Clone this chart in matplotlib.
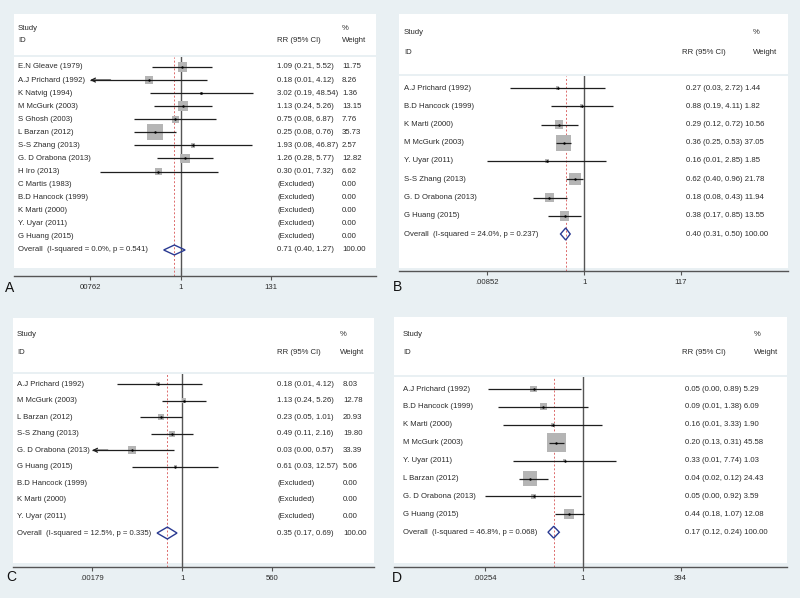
import numpy as np
import matplotlib
matplotlib.use("Agg")
import matplotlib.pyplot as plt
from matplotlib.patches import Rectangle, Polygon
from matplotlib.transforms import blended_transform_factory
from matplotlib.ticker import NullLocator

plt.rcParams['font.family'] = ['Liberation Sans', 'DejaVu Sans']

# ---------------- Panel A data ----------------
a_study = ["E.N Gleave (1979)", "A.J Prichard (1992)", "K Natvig (1994)", "M McGurk (2003)",
           "S Ghosh (2003)", "L Barzan (2012)", "S-S Zhang (2013)", "G. D Orabona (2013)", "H Iro (2013)"]
a_rr = [1.09, 0.18, 3.02, 1.13, 0.75, 0.25, 1.93, 1.26, 0.30]
a_lo = [0.21, 0.006, 0.19, 0.24, 0.08, 0.08, 0.08, 0.28, 0.013]
a_hi = [5.52, 4.12, 48.54, 5.26, 6.87, 0.76, 46.87, 5.77, 7.32]
a_wt = [11.75, 8.26, 1.36, 13.15, 7.76, 35.73, 2.57, 12.82, 6.62]
a_excluded = ["C Martis (1983)", "B.D Hancock (1999)", "K Marti (2000)", "Y. Uyar (2011)", "G Huang (2015)"]
a_overall = [0.71, 0.40, 1.27]
a_overall_label = "Overall  (I-squared = 0.0%, p = 0.541)"
a_ticks = [0.00762, 1, 131]
a_ticklabels = ["00762", "1", "131"]

# ---------------- Panel B data ----------------
b_study = ["A.J Prichard (1992)", "B.D Hancock (1999)", "K Marti (2000)", "M McGurk (2003)",
           "Y. Uyar (2011)", "S-S Zhang (2013)", "G. D Orabona (2013)", "G Huang (2015)"]
b_rr = [0.27, 0.88, 0.29, 0.36, 0.16, 0.62, 0.18, 0.38]
b_lo = [0.026, 0.19, 0.12, 0.25, 0.00852, 0.40, 0.08, 0.17]
b_hi = [2.72, 4.11, 0.72, 0.53, 2.85, 0.96, 0.43, 0.85]
b_wt = [1.44, 1.82, 10.56, 37.05, 1.85, 21.78, 11.94, 13.55]
b_excluded = []
b_overall = [0.40, 0.31, 0.50]
b_overall_label = "Overall  (I-squared = 24.0%, p = 0.237)"
b_ticks = [0.00852, 1, 117]
b_ticklabels = [".00852", "1", "117"]

# ---------------- Panel C data ----------------
c_study = ["A.J Prichard (1992)", "M McGurk (2003)", "L Barzan (2012)", "S-S Zhang (2013)",
           "G. D Orabona (2013)", "G Huang (2015)"]
c_rr = [0.18, 1.13, 0.23, 0.49, 0.03, 0.61]
c_lo = [0.01, 0.24, 0.05, 0.11, 0.0015, 0.03]
c_hi = [4.12, 5.26, 1.01, 2.16, 0.57, 12.57]
c_wt = [8.03, 12.78, 20.93, 19.80, 33.39, 5.06]
c_excluded = ["B.D Hancock (1999)", "K Marti (2000)", "Y. Uyar (2011)"]
c_overall = [0.35, 0.17, 0.69]
c_overall_label = "Overall  (I-squared = 12.5%, p = 0.335)"
c_ticks = [0.00179, 1, 560]
c_ticklabels = [".00179", "1", "560"]

# ---------------- Panel D data ----------------
d_study = ["A.J Prichard (1992)", "B.D Hancock (1999)", "K Marti (2000)", "M McGurk (2003)",
           "Y. Uyar (2011)", "L Barzan (2012)", "G. D Orabona (2013)", "G Huang (2015)"]
d_rr = [0.05, 0.09, 0.16, 0.20, 0.33, 0.04, 0.05, 0.44]
d_lo = [0.0031, 0.0055, 0.0078, 0.13, 0.014, 0.02, 0.00254, 0.18]
d_hi = [0.89, 1.38, 3.33, 0.31, 7.74, 0.12, 0.92, 1.07]
d_wt = [5.29, 6.09, 1.90, 45.58, 1.03, 24.43, 3.59, 12.08]
d_excluded = []
d_overall = [0.17, 0.12, 0.24]
d_overall_label = "Overall  (I-squared = 46.8%, p = 0.068)"
d_ticks = [0.00254, 1, 394]
d_ticklabels = [".00254", "1", "394"]

# ---------------- figure ----------------
W, H = 800, 598
BG = '#e9f0f3'
TXT = '#2b2b2b'
FS = 5.6
fig = plt.figure(figsize=(W / 100, H / 100), dpi=100, facecolor=BG)


def fx(px):
    return px / W


def fy(py):
    return 1 - py / H


def panel(lay, study, rr, lo, hi, wt, excluded, ov, ov_label, ticks, ticklabels, letter):
    L, R = lay['x']
    for (t, b) in (lay['head'], lay['body']):
        fig.patches.append(Rectangle((fx(L), fy(b)), (R - L) / W, (b - t) / H,
                                     transform=fig.transFigure, facecolor='white',
                                     edgecolor='none', zorder=-5))
    top = lay['body'][0]
    ax = fig.add_axes([fx(L), fy(lay['axis']), (R - L) / W, (lay['axis'] - top) / H])
    ax.set_zorder(1)
    ax.set_facecolor('none')
    ax.set_xscale('log')
    N, p = lay['null'], lay['ppd']
    ax.set_xlim(10 ** (-(N - L) / p), 10 ** ((R - N) / p))
    r0, dr = lay['r0'], lay['dr']
    ax.set_ylim((lay['axis'] - r0) / dr, (top - r0) / dr)

    for s in ('left', 'right', 'top'):
        ax.spines[s].set_visible(False)
    ax.spines['bottom'].set_color('#555555')
    ax.spines['bottom'].set_linewidth(1.0)
    ax.set_yticks([])
    ax.set_xticks(ticks)
    ax.set_xticklabels(ticklabels)
    ax.xaxis.set_minor_locator(NullLocator())
    ax.tick_params(axis='x', direction='out', length=3, width=0.8, color='#555555',
                   labelsize=FS, labelcolor=TXT, pad=3)

    # reference lines
    ax.axvline(1, color='#555555', lw=1.0, zorder=1)
    ax.axvline(ov[0], color='#dd6b6b', lw=0.7, ls=(0, (2, 2)), zorder=1)

    n = len(study)
    rows = np.arange(n)
    xmin_clip = ticks[0]
    sizes = [(lay['k'] * np.sqrt(w) * 0.72) ** 2 for w in wt]
    ax.scatter(rr, rows, marker='s', s=sizes, color='#b5b5b5', linewidths=0, zorder=2)
    for i in range(n):
        x0 = max(lo[i], xmin_clip)
        ax.plot([x0, hi[i]], [i, i], color='#1e1e1e', lw=0.9, zorder=3,
                solid_capstyle='butt')
        if lo[i] < xmin_clip:
            ax.annotate('', xy=(xmin_clip, i), xytext=(xmin_clip * 3, i),
                        arrowprops=dict(arrowstyle='->', color='#1e1e1e', lw=0.9,
                                        mutation_scale=7, shrinkA=0, shrinkB=0), zorder=3)
    ax.scatter(rr, rows, s=3, color='black', linewidths=0, zorder=4)

    # overall diamond
    yo = n + len(excluded)
    h = lay['dh']
    ax.add_patch(Polygon([(ov[1], yo), (ov[0], yo - h), (ov[2], yo), (ov[0], yo + h)],
                         closed=True, fill=False, edgecolor='#2a3a92', lw=1.0, zorder=4))

    trans = blended_transform_factory(fig.transFigure, ax.transData)
    kw = dict(transform=trans, fontsize=FS, va='center', ha='left', color=TXT, clip_on=False)
    for i in range(n):
        ax.text(fx(lay['name_x']), i, study[i], **kw)
        rtxt = f"{rr[i]:.2f} ({lo[i]:.2f}, {hi[i]:.2f})"
        if lay['wt_x'] is None:
            ax.text(fx(lay['rr_x']), i, rtxt + f" {wt[i]:.2f}", **kw)
        else:
            ax.text(fx(lay['rr_x']), i, rtxt, **kw)
            ax.text(fx(lay['wt_x']), i, f"{wt[i]:.2f}", **kw)
    for j, name in enumerate(excluded):
        y = n + j
        ax.text(fx(lay['name_x']), y, name, **kw)
        ax.text(fx(lay['rr_x']), y, "(Excluded)", **kw)
        ax.text(fx(lay['wt_x']), y, "0.00", **kw)
    ax.text(fx(lay['name_x']), yo, ov_label, **kw)
    otxt = f"{ov[0]:.2f} ({ov[1]:.2f}, {ov[2]:.2f})"
    if lay['wt_x'] is None:
        ax.text(fx(lay['rr_x']), yo, otxt + " 100.00", **kw)
    else:
        ax.text(fx(lay['rr_x']), yo, otxt, **kw)
        ax.text(fx(lay['wt_x']), yo, "100.00", **kw)

    # header
    hk = dict(fontsize=FS, va='center', ha='left', color=TXT)
    fig.text(fx(lay['name_x']), fy(lay['hy'][0]), "Study", **hk)
    fig.text(fx(lay['name_x']), fy(lay['hy'][1]), "ID", **hk)
    fig.text(fx(lay['hrr_x']), fy(lay['hy'][1]), "RR (95% CI)", **hk)
    fig.text(fx(lay['hwt_x']), fy(lay['hy'][0]), "%", **hk)
    fig.text(fx(lay['hwt_x']), fy(lay['hy'][1]), "Weight", **hk)

    fig.text(fx(lay['letter'][0]), fy(lay['letter'][1]), letter, fontsize=10,
             ha='center', va='center', color='#111111')


lay_a = dict(x=(14, 376), head=(14, 55), body=(57, 268), axis=276, null=180.7, ppd=42.75,
             r0=67, dr=13.07, name_x=18, rr_x=277, wt_x=342, hy=(28, 40), hrr_x=277,
             hwt_x=342, letter=(10, 288), k=2.7, dh=0.38)
lay_b = dict(x=(399, 788), head=(14, 74), body=(76, 268), axis=271, null=584.3, ppd=46.8,
             r0=88, dr=18.25, name_x=404, rr_x=686, wt_x=None, hy=(33, 52), hrr_x=682,
             hwt_x=753, letter=(397, 287), k=2.6, dh=0.33)
lay_c = dict(x=(13, 374), head=(318, 372), body=(374, 563), axis=567, null=182.3, ppd=32.8,
             r0=384, dr=16.56, name_x=17, rr_x=277, wt_x=343, hy=(335, 352), hrr_x=277,
             hwt_x=340, letter=(11, 577), k=1.35, dh=0.36)
lay_d = dict(x=(394, 787), head=(317, 375), body=(377, 563), axis=567, null=582.7, ppd=37.7,
             r0=389, dr=17.9, name_x=403, rr_x=685, wt_x=None, hy=(335, 352), hrr_x=682,
             hwt_x=754, letter=(397, 578), k=2.9, dh=0.33)

panel(lay_a, a_study, a_rr, a_lo, a_hi, a_wt, a_excluded, a_overall, a_overall_label,
      a_ticks, a_ticklabels, "A")
panel(lay_b, b_study, b_rr, b_lo, b_hi, b_wt, b_excluded, b_overall, b_overall_label,
      b_ticks, b_ticklabels, "B")
panel(lay_c, c_study, c_rr, c_lo, c_hi, c_wt, c_excluded, c_overall, c_overall_label,
      c_ticks, c_ticklabels, "C")
panel(lay_d, d_study, d_rr, d_lo, d_hi, d_wt, d_excluded, d_overall, d_overall_label,
      d_ticks, d_ticklabels, "D")

fig.savefig("out.png", dpi=100, facecolor=BG)
